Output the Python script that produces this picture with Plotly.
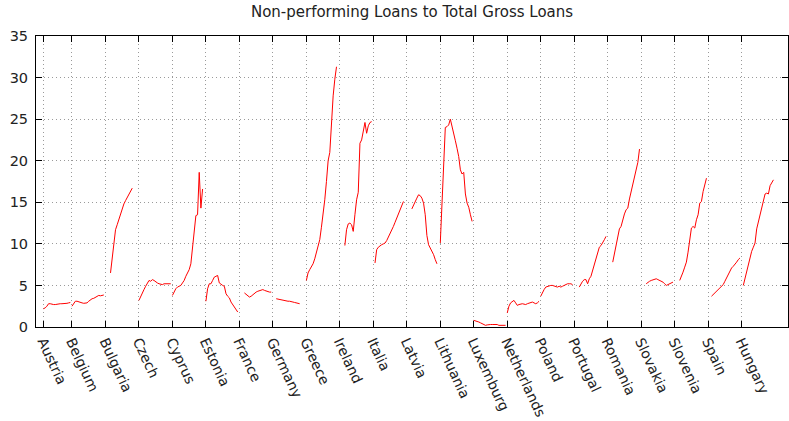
import plotly.graph_objects as go

# Non-performing loans ratio (%) per country, one block of periods per country
countries = ["Austria", "Belgium", "Bulgaria", "Czech", "Cyprus", "Estonia", "France",
             "Germany", "Greece", "Ireland", "Italia", "Latvia", "Lithuania", "Luxemburg",
             "Netherlands", "Poland", "Portugal", "Romania", "Slovakia", "Slovenia",
             "Spain", "Hungary"]

austria = [2.2, 2.3, 2.5, 2.8, 2.8, 2.7, 2.7, 2.7, 2.75, 2.75, 2.8, 2.8, 2.8, 2.85, 2.85, 2.9, 2.95]
belgium = [2.5, 2.9, 3.1, 3.1, 3.0, 2.95, 2.9, 2.85, 2.85, 2.9, 3.1, 3.3, 3.4, 3.45, 3.6, 3.7, 3.8, 3.75, 3.85, 3.85]
bulgaria = [None, None, None, 6.5, 8.3, 10.2, 11.7, 12.3, 13.0, 13.5, 14.2, 14.8, 15.2, 15.6, 16.0, 16.4, 16.7, None, None, None]
czech = [3.2, 3.7, 4.1, 4.5, 4.9, 5.3, 5.6, 5.5, 5.7, 5.6, 5.5, 5.3, 5.2, 5.1, 5.1, 5.2, 5.2, 5.2, 5.2, 5.2]
cyprus = [3.8, 4.3, 4.6, 4.8, 4.9, 5.0, 5.3, 5.6, 6.1, 6.5, 6.9, 7.6, 9.7, 12.0, 13.4, 13.5, 18.6, 14.3, 16.6, None]
estonia = [3.1, 4.6, 5.2, 5.2, 5.6, 6.0, 6.1, 6.2, 5.3, 5.1, 5.0, 4.9, 4.0, 3.7, 3.5, 3.0, 2.7, 2.4, 2.1, 1.8]
france = [None, None, None, 4.1, 3.9, 3.7, 3.6, 3.7, 3.9, 4.1, 4.2, 4.3, 4.4, 4.4, 4.5, 4.4, 4.3, 4.3, 4.2, 4.2]
germany = [None, None, 3.4, 3.35, 3.3, 3.3, 3.25, 3.2, 3.15, 3.1, 3.1, 3.0, 3.0, 2.95, 2.9, 2.85, 2.8, None, None, None]
greece = [5.6, 6.5, 6.9, 7.3, 7.6, 8.2, 8.9, 9.5, 10.5, 12.0, 13.6, 15.3, 17.5, 20.0, 21.0, 25.0, 27.8, 29.8, 31.3, None]
ireland = [None, None, None, 9.8, 11.7, 12.4, 12.5, 12.3, 11.5, 13.5, 15.3, 16.2, 22.1, 22.5, 23.8, 24.6, 23.3, 24.2, 24.6, 24.7]
italia = [None, 7.7, 9.3, 9.6, 9.8, 9.9, 10.0, 10.1, 10.4, 10.8, 11.3, 11.7, 12.1, 12.6, 13.1, 13.5, 14.1, 14.5, 15.1, None]
latvia = [None, None, None, 14.2, 14.7, 15.1, 15.5, 15.9, 15.8, 15.5, 14.9, 13.5, 11.0, 9.9, 9.5, 9.0, 8.7, 8.1, 7.6, None]
lithuania = [10.1, 15.0, 20.3, 24.0, 24.1, 24.3, 25.0, 24.0, 23.2, 22.4, 21.5, 20.5, 18.9, 18.4, 18.6, 16.0, 14.9, 14.4, 13.5, 12.7]
luxemburg = [0.8, 0.75, 0.7, 0.6, 0.5, 0.4, 0.3, 0.2, 0.25, 0.3, 0.3, 0.3, 0.3, 0.25, 0.3, 0.2, 0.2, 0.15, 0.2, 0.2]
netherlands = [1.7, 2.5, 2.9, 3.1, 3.2, 2.9, 2.6, 2.7, 2.8, 2.8, 2.75, 2.7, 2.8, 2.9, 3.0, 3.0, 2.9, 2.8, 2.9, 3.1]
poland = [3.7, 4.2, 4.5, 4.8, 4.9, 4.9, 5.0, 5.0, 4.9, 4.9, 4.8, 4.9, 4.8, 4.9, 5.0, 5.1, 5.2, 5.2, 5.2, 5.1]
portugal = [None, None, None, 4.8, 5.2, 5.5, 5.7, 5.7, 5.2, 5.8, 6.1, 6.8, 7.5, 8.3, 9.1, 9.6, 9.8, 10.1, 10.5, 10.9]
romania = [None, None, None, 7.8, 8.8, 9.9, 11.2, 11.8, 12.1, 12.9, 13.6, 14.1, 14.3, 15.4, 16.3, 17.0, 17.7, 18.7, 19.8, 21.4]
slovakia = [None, None, None, 5.2, 5.4, 5.5, 5.6, 5.7, 5.8, 5.8, 5.7, 5.6, 5.5, 5.4, 5.2, 5.0, 5.1, 5.2, 5.3, 5.4]
slovenia = [None, None, None, 5.6, 6.0, 6.6, 7.2, 7.8, 9.0, 10.8, 11.9, 12.1, 11.9, 12.9, 13.5, 14.9, 15.1, 16.3, 17.3, 17.9]
spain = [None, None, 3.7, 3.9, 4.1, 4.2, 4.4, 4.6, 4.8, 5.1, 5.5, 5.9, 6.3, 6.7, 7.1, 7.3, 7.5, 7.8, 8.1, 8.3]
hungary = [None, 5.0, 5.9, 6.6, 7.6, 8.5, 9.1, 9.6, 10.1, 11.8, 12.6, 13.5, 14.3, 15.0, 16.0, 16.1, 16.0, 17.0, 17.3, 17.7]

series = [austria, belgium, bulgaria, czech, cyprus, estonia, france, germany, greece,
          ireland, italia, latvia, lithuania, luxemburg, netherlands, poland, portugal,
          romania, slovakia, slovenia, spain, hungary]

# Concatenate all blocks on one running period index; a None between blocks breaks the line
xs, ys, starts = [], [], []
pos = 0
for vals in series:
    starts.append(pos)
    xs.extend(pos + i for i in range(len(vals)))
    ys.extend(vals)
    xs.append(None)
    ys.append(None)
    pos += len(vals)

fig = go.Figure(go.Scatter(x=xs, y=ys, mode="lines",
                           line=dict(color="#ff0000", width=1),
                           connectgaps=False, hoverinfo="skip"))

axis_common = dict(showline=True, linecolor="black", linewidth=1, mirror="ticks",
                   ticks="inside", ticklen=6, tickcolor="black", tickwidth=1,
                   showgrid=True, gridcolor="#9a9a9a", gridwidth=1, griddash="1px,3px",
                   zeroline=False, automargin=False)

fig.update_xaxes(range=[-4.5, pos + 7.7], tickmode="array", tickvals=starts,
                 ticktext=countries, tickangle=65,
                 tickfont=dict(family="DejaVu Sans", size=14, color="#222222"), **axis_common)
fig.update_yaxes(range=[0, 35], tickmode="linear", tick0=0, dtick=5, ticklabelstandoff=4,
                 tickfont=dict(family="DejaVu Sans", size=14.5, color="#222222"), **axis_common)

fig.update_layout(
    width=789, height=421,
    margin=dict(l=36, r=1, t=36, b=94),
    paper_bgcolor="white", plot_bgcolor="white",
    showlegend=False,
    font=dict(family="DejaVu Sans", size=14.5, color="#222222"),
    title=dict(text="Non-performing Loans to Total Gross Loans",
               x=0.5, xref="paper", xanchor="center",
               y=1 - 12 / 421, yref="container", yanchor="middle",
               font=dict(family="DejaVu Sans", size=15, color="#222222")),
)

fig.write_html("out.html")
